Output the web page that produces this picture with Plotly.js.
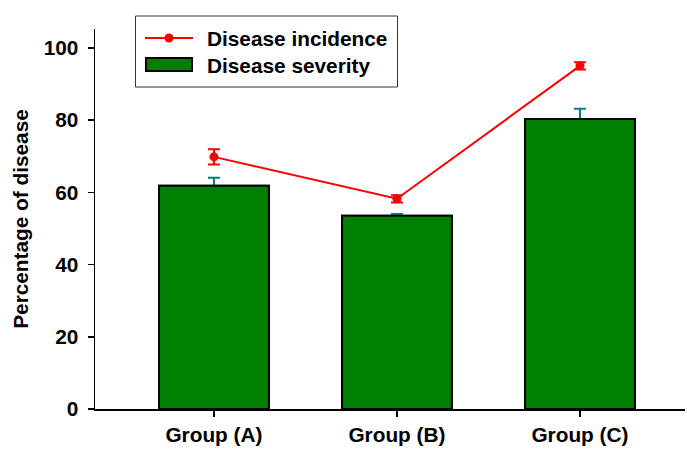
<!DOCTYPE html>
<html>
<head>
<meta charset="utf-8">
<script src="https://cdn.plot.ly/plotly-3.0.1.min.js"></script>
<style>html,body{margin:0;padding:0;background:#fff;}#chart{width:687px;height:449px;}</style>
</head>
<body>
<div id="chart"></div>
<script>
var categories = ["Group (A)", "Group (B)", "Group (C)"];
var severity = [61.8, 53.5, 80.3];
var severityErr = [2.2, 0.5, 2.8];
var incidence = [69.8, 58.2, 95.0];
var incidenceErr = [2.1, 1.0, 1.0];
var yTicks = [0, 20, 40, 60, 80, 100];
var legendLabels = ["Disease incidence", "Disease severity"];

var FONT = "Arial, 'Liberation Sans', sans-serif";
var FS = 20.8;
var GREEN = "#008000";

// plot area in pixels: x 95..685, y 29..409
function px(x){ return (x - 95) / 590; }
function py(y){ return (409 - y) / 380; }

var traces = [
  { // bar with error bars (lower half hidden by the overlay bar)
    type: "bar", x: categories, y: severity, width: 0.6,
    marker: {color: GREEN, line: {color: "#000", width: 2}},
    error_y: {type: "data", array: severityErr, visible: true, color: "#008080", thickness: 2, width: 6},
    showlegend: false, hoverinfo: "skip"
  },
  {
    type: "bar", x: categories, y: severity, width: 0.6, name: legendLabels[1],
    marker: {color: GREEN, line: {color: "#000", width: 2}},
    showlegend: false
  },
  {
    type: "scatter", mode: "lines+markers", x: categories, y: incidence, name: legendLabels[0],
    line: {color: "#ff0000", width: 2},
    marker: {color: "#ff0000", size: 9, symbol: "circle"},
    error_y: {type: "data", array: incidenceErr, visible: true, color: "#ff0000", thickness: 2, width: 6},
    showlegend: false
  }
];

var shapes = [
  {type: "rect", xref: "paper", yref: "paper", x0: px(135.5), x1: px(397.5), y0: py(87), y1: py(16),
   line: {color: "#333", width: 1}, fillcolor: "rgba(255,255,255,1)", layer: "above"},
  {type: "line", xref: "paper", yref: "paper", x0: px(145), x1: px(193), y0: py(38), y1: py(38),
   line: {color: "#ff0000", width: 2}, layer: "above"},
  {type: "circle", xref: "paper", yref: "paper", x0: px(164.5), x1: px(173.5), y0: py(42.5), y1: py(33.5),
   line: {color: "#ff0000", width: 0}, fillcolor: "#ff0000", layer: "above"},
  {type: "rect", xref: "paper", yref: "paper", x0: px(146), x1: px(192), y0: py(71), y1: py(58),
   line: {color: "#000", width: 2}, fillcolor: GREEN, layer: "above"}
];

var annotations = [
  {xref: "paper", yref: "paper", x: px(205), y: py(39), text: legendLabels[0], showarrow: false,
   xanchor: "left", yanchor: "middle", font: {family: FONT, size: FS, color: "#000", weight: "bold"}},
  {xref: "paper", yref: "paper", x: px(205), y: py(66), text: legendLabels[1], showarrow: false,
   xanchor: "left", yanchor: "middle", font: {family: FONT, size: FS, color: "#000", weight: "bold"}}
];

var layout = {
  width: 687, height: 449,
  margin: {l: 95, r: 2, t: 29, b: 40, pad: 0},
  paper_bgcolor: "#fff", plot_bgcolor: "#fff",
  barmode: "overlay",
  showlegend: false,
  font: {family: FONT, size: FS, color: "#000", weight: "bold"},
  xaxis: {
    type: "category", range: [-0.65, 2.574],
    showline: true, linecolor: "#000", linewidth: 1.5,
    ticks: "outside", ticklen: 6, tickcolor: "#000", tickwidth: 1.5,
    ticklabelstandoff: 1,
    showgrid: false, zeroline: false,
    tickfont: {family: FONT, size: FS, color: "#000", weight: "bold"},
    fixedrange: true
  },
  yaxis: {
    range: [0, 105.2], tickvals: yTicks, ticktext: yTicks.map(String),
    showline: true, linecolor: "#000", linewidth: 1.5,
    ticks: "outside", ticklen: 6, tickcolor: "#000", tickwidth: 1.5,
    ticklabelstandoff: 5,
    showgrid: false, zeroline: false,
    tickfont: {family: FONT, size: FS, color: "#000", weight: "bold"},
    title: {text: "Percentage of disease", standoff: 9, font: {family: FONT, size: FS, color: "#000", weight: "bold"}},
    fixedrange: true
  },
  shapes: shapes,
  annotations: annotations
};

Plotly.newPlot("chart", traces, layout, {displayModeBar: false, staticPlot: true});
</script>
</body>
</html>
